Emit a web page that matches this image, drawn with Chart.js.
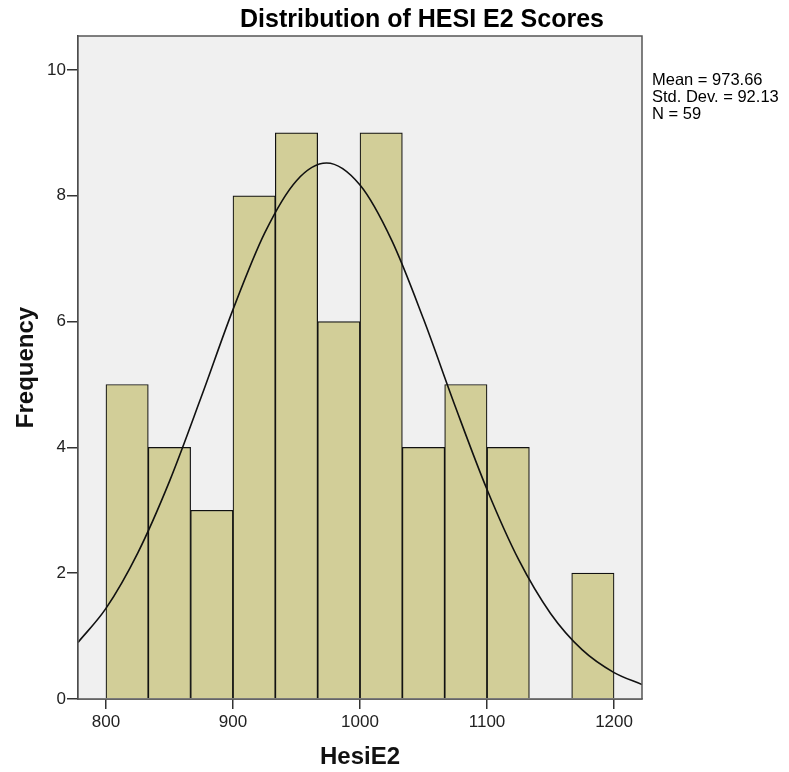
<!DOCTYPE html>
<html>
<head>
<meta charset="utf-8">
<script src="https://cdn.jsdelivr.net/npm/chart.js@4/dist/chart.umd.min.js"></script>
<style>
  html, body { margin: 0; padding: 0; background: #fff; }
  #wrap { position: relative; width: 789px; height: 772px; }
</style>
</head>
<body>
<div id="wrap"><canvas id="chart" width="789" height="772"></canvas></div>
<script>
// histogram bins (centers) and counts
const binCenters = [816.67, 850, 883.33, 916.67, 950, 983.33, 1016.67, 1050, 1083.33, 1116.67, 1150, 1183.33];
const counts = [5, 4, 3, 8, 9, 6, 9, 4, 5, 4, 0, 2];

// fitted normal curve
const curveX = [778, 800, 825, 850, 875, 900, 925, 950, 973.66, 1000, 1025, 1050, 1075, 1100, 1125, 1150, 1175, 1200, 1222];
const curveY = [0.90, 1.44, 2.32, 3.46, 4.80, 6.19, 7.41, 8.24, 8.52, 8.17, 7.29, 6.04, 4.65, 3.33, 2.21, 1.36, 0.78, 0.42, 0.23];

const xTicks = [800, 900, 1000, 1100, 1200];
const yTicks = [0, 2, 4, 6, 8, 10];

const chartTitle = 'Distribution of HESI E2 Scores';
const statsLines = ['Mean = 973.66', 'Std. Dev. = 92.13', 'N = 59'];

const FONT = "'Liberation Sans', Arial, sans-serif";

// plot background, frame, title and stats text
const decor = {
  id: 'decor',
  beforeDatasetsDraw(chart) {
    const { ctx, chartArea: a } = chart;
    ctx.save();
    ctx.fillStyle = '#f0f0f0';
    ctx.fillRect(a.left, a.top, a.right - a.left, a.bottom - a.top);
    ctx.restore();
  },
  afterDraw(chart) {
    const { ctx, chartArea: a } = chart;
    ctx.save();
    ctx.strokeStyle = '#555';
    ctx.lineWidth = 1.5;
    ctx.strokeRect(a.left, a.top, a.right - a.left, a.bottom - a.top);

    ctx.fillStyle = '#000';
    ctx.font = 'bold 25px ' + FONT;
    ctx.textAlign = 'center';
    ctx.textBaseline = 'alphabetic';
    ctx.fillText(chartTitle, 422, 27);

    ctx.font = '16.5px ' + FONT;
    ctx.textAlign = 'left';
    ctx.textBaseline = 'middle';
    statsLines.forEach((s, i) => ctx.fillText(s, 652, 80 + i * 17));
    ctx.restore();
  }
};

const ctx = document.getElementById('chart').getContext('2d');
new Chart(ctx, {
  data: {
    datasets: [
      {
        type: 'line',
        data: curveX.map((x, i) => ({ x, y: curveY[i] })),
        borderColor: '#111',
        borderWidth: 1.6,
        pointRadius: 0,
        cubicInterpolationMode: 'monotone',
        order: 0
      },
      {
        type: 'bar',
        data: binCenters.map((x, i) => ({ x, y: counts[i] })),
        backgroundColor: '#d2ce98',
        borderColor: '#111',
        borderWidth: 1.2,
        barPercentage: 1,
        categoryPercentage: 1,
        order: 1
      }
    ]
  },
  options: {
    responsive: false,
    animation: false,
    events: [],
    layout: { padding: { top: 36, right: 147, left: 0, bottom: 0 } },
    plugins: { legend: { display: false }, tooltip: { enabled: false }, title: { display: false } },
    scales: {
      x: {
        type: 'linear',
        min: 778,
        max: 1222,
        offset: false,
        afterBuildTicks: s => { s.ticks = xTicks.map(v => ({ value: v })); },
        afterFit: s => { s.height = 73; },
        grid: { display: true, offset: false, drawOnChartArea: false, drawTicks: true, tickLength: 10, color: '#333', lineWidth: 1.5 },
        border: { display: true, color: '#333', width: 1.5 },
        ticks: { color: '#222', font: { family: FONT, size: 17 }, padding: 3, maxRotation: 0, callback: v => String(v) },
        title: { display: true, text: 'HesiE2', color: '#111', font: { family: FONT, size: 24, weight: 'bold' }, padding: { top: 2, bottom: 0 } }
      },
      y: {
        min: 0,
        max: 10.54,
        afterBuildTicks: s => { s.ticks = yTicks.map(v => ({ value: v })); },
        afterFit: s => { s.width = 78; },
        grid: { display: true, offset: false, drawOnChartArea: false, drawTicks: true, tickLength: 11, color: '#333', lineWidth: 1.5 },
        border: { display: true, color: '#333', width: 1.5 },
        ticks: { color: '#222', font: { family: FONT, size: 17 }, padding: 1, callback: v => String(v) },
        title: { display: true, text: 'Frequency', color: '#111', font: { family: FONT, size: 24, weight: 'bold' }, padding: { top: 12, bottom: 0 } }
      }
    }
  },
  plugins: [decor]
});
</script>
</body>
</html>
